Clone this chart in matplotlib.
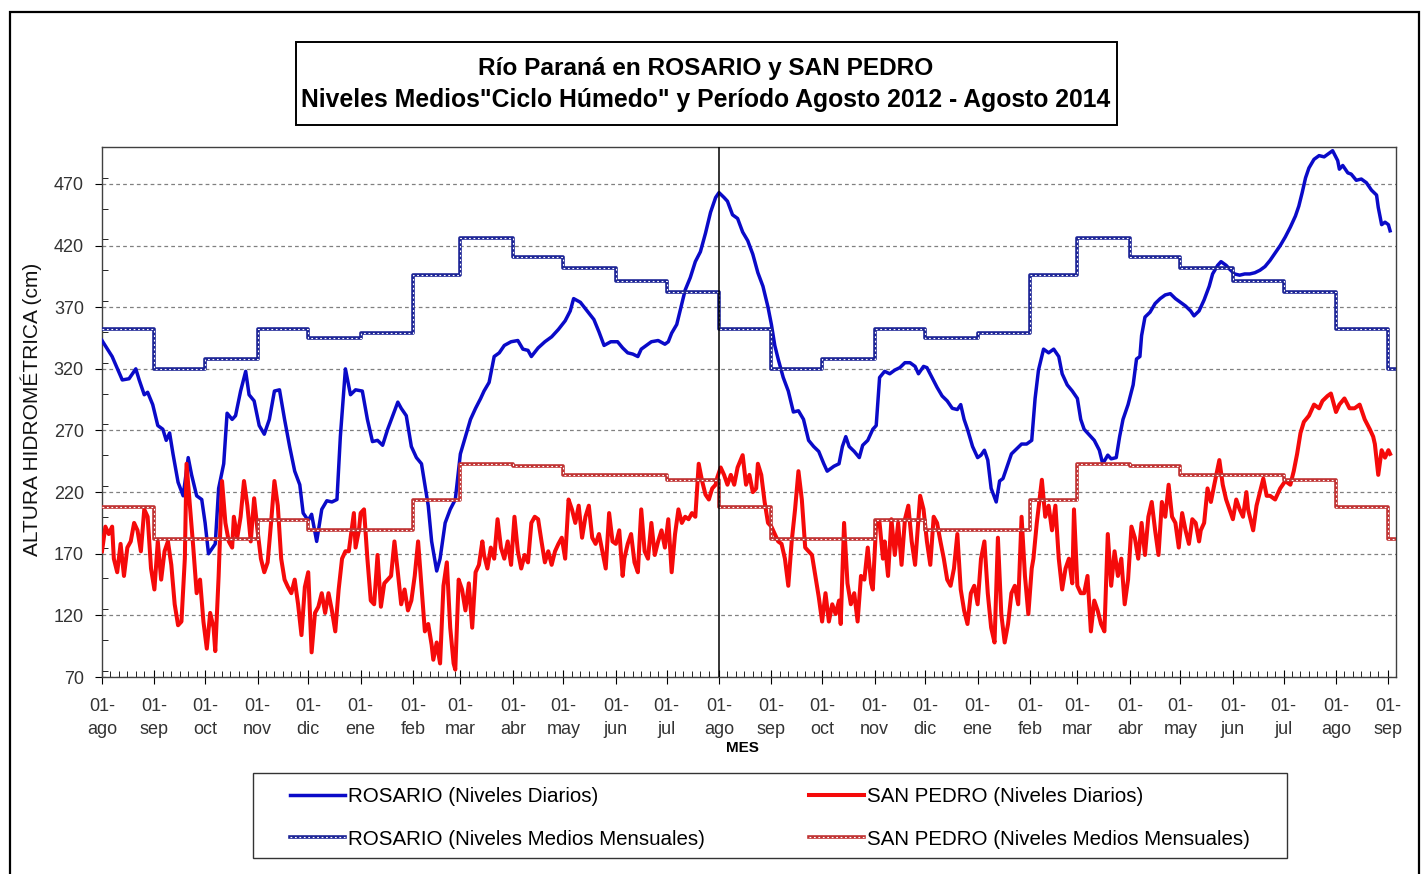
import pandas as pd
import matplotlib
matplotlib.use("Agg")
import matplotlib.pyplot as plt
import matplotlib.dates as mdates
from matplotlib.ticker import FuncFormatter, MultipleLocator
from matplotlib.legend_handler import HandlerTuple
from matplotlib.patches import Rectangle

plt.rcParams['font.family'] = ['Liberation Sans', 'DejaVu Sans']

inicio = pd.Timestamp('2012-08-01')
fin = inicio + pd.Timedelta(days=765.5)

# niveles diarios: (dias desde 01-ago-2012, cm)
ros_diario = [
    (0, 343), (6, 330), (12, 311), (16, 312), (20, 320), (22, 311), (25, 299), (27, 301), (30, 291),
    (33, 274), (36, 271), (38, 262), (40, 268), (42, 251), (45, 228), (48, 217), (51, 248), (53, 234),
    (56, 217), (59, 214), (61, 195), (63, 170), (67, 178), (69, 223), (72, 243), (74, 284), (77, 279),
    (79, 282), (82, 302), (85, 318), (87, 299), (90, 294), (93, 274), (96, 267), (99, 279), (102, 302),
    (105, 303), (108, 279), (111, 257), (114, 237), (117, 226), (119, 203), (122, 197), (124, 202),
    (127, 180), (130, 206), (133, 213), (136, 212), (139, 214), (141, 265), (144, 320), (147, 299),
    (150, 303), (154, 302), (157, 279), (160, 261), (163, 262), (166, 258), (169, 271), (172, 282),
    (175, 293), (177, 288), (180, 282), (183, 257), (186, 248), (189, 243), (191, 226), (193, 209),
    (195, 180), (198, 156), (200, 166), (203, 195), (206, 206), (209, 214), (212, 251), (215, 265),
    (218, 279), (221, 288), (224, 296), (226, 302), (229, 309), (232, 330), (235, 333), (238, 339),
    (242, 342), (246, 343), (249, 336), (252, 335), (254, 330), (258, 337), (262, 342), (266, 346),
    (270, 352), (274, 359), (277, 367), (279, 377), (283, 374), (287, 367), (291, 360), (294, 350),
    (297, 339), (301, 342), (305, 342), (308, 337), (311, 333), (314, 332), (317, 330), (319, 336),
    (322, 339), (325, 342), (329, 343), (333, 340), (335, 342), (337, 349), (340, 356), (343, 373),
    (345, 384), (348, 394), (351, 407), (354, 415), (357, 430), (360, 447), (363, 459), (365, 463),
    (368, 459), (370, 456), (373, 445), (376, 442), (379, 431), (382, 424), (385, 413), (388, 398),
    (391, 387), (394, 370), (396, 356), (398, 339), (400, 328), (403, 313), (406, 302), (409, 285),
    (412, 286), (415, 279), (418, 262), (421, 257), (424, 253), (427, 243), (429, 237), (433, 241),
    (436, 243), (438, 257), (440, 265), (442, 257), (445, 253), (448, 248), (450, 258), (453, 262),
    (456, 271), (458, 274), (460, 313), (463, 318), (466, 316), (469, 319), (472, 321), (475, 325),
    (478, 325), (481, 322), (483, 316), (486, 322), (488, 321), (491, 313), (494, 305), (497, 298),
    (500, 294), (503, 288), (506, 287), (508, 291), (510, 279), (512, 271), (515, 257), (518, 248),
    (520, 250), (522, 254), (524, 246), (526, 223), (529, 212), (531, 229), (533, 231), (536, 243),
    (538, 251), (541, 255), (544, 259), (547, 259), (550, 262), (552, 296), (554, 319), (557, 336),
    (560, 333), (563, 336), (566, 330), (568, 316), (571, 307), (574, 302), (577, 296), (579, 279),
    (581, 271), (583, 268), (587, 262), (590, 254), (592, 243), (595, 250), (597, 247), (600, 248),
    (602, 265), (604, 279), (607, 291), (610, 307), (612, 328), (614, 330), (615, 347), (617, 362),
    (620, 366), (623, 373), (626, 377), (629, 380), (632, 381), (635, 377), (638, 374), (641, 371),
    (644, 367), (646, 363), (649, 367), (652, 376), (655, 387), (657, 397), (660, 404), (662, 407),
    (665, 404), (667, 401), (670, 397), (673, 396), (676, 397), (679, 397), (682, 398), (685, 400),
    (688, 403), (691, 408), (694, 414), (697, 420), (700, 427), (703, 435), (706, 444), (708, 452),
    (710, 463), (712, 475), (714, 483), (717, 490), (720, 493), (723, 492), (726, 495), (728, 497),
    (731, 489), (732, 482), (734, 485), (737, 479), (739, 478), (742, 473), (745, 474), (748, 471),
    (751, 465), (754, 461), (755, 451), (757, 437), (759, 439), (761, 437), (762, 432),
]

sp_diario = [
    (0, 172), (2, 192), (4, 186), (6, 192), (7, 166), (9, 155), (11, 178), (13, 152), (15, 175),
    (17, 180), (19, 195), (21, 189), (23, 172), (25, 206), (27, 200), (29, 158), (31, 141), (33, 180),
    (35, 149), (37, 172), (39, 180), (41, 161), (43, 129), (45, 112), (47, 115), (49, 166), (50, 243),
    (52, 209), (54, 175), (56, 138), (58, 149), (60, 115), (62, 93), (64, 122), (66, 110), (67, 91),
    (69, 152), (71, 229), (73, 195), (75, 180), (77, 175), (78, 200), (80, 183), (82, 200), (84, 229),
    (86, 209), (88, 180), (90, 215), (92, 189), (94, 166), (96, 155), (98, 163), (100, 195), (102, 229),
    (104, 209), (106, 166), (108, 149), (110, 143), (112, 138), (114, 149), (116, 129), (118, 104),
    (120, 143), (122, 155), (124, 90), (126, 122), (128, 127), (130, 138), (132, 122), (134, 138),
    (136, 124), (138, 107), (140, 141), (142, 166), (144, 172), (146, 172), (149, 203), (150, 175),
    (152, 189), (153, 203), (155, 206), (157, 166), (159, 132), (161, 129), (163, 169), (165, 127),
    (167, 146), (169, 149), (171, 152), (173, 180), (175, 155), (177, 129), (179, 141), (181, 124),
    (183, 132), (185, 152), (187, 180), (189, 144), (191, 107), (193, 113), (195, 96), (196, 84),
    (198, 98), (200, 81), (202, 144), (204, 163), (206, 110), (208, 81), (209, 76), (211, 149),
    (213, 141), (215, 124), (217, 146), (219, 110), (221, 155), (223, 161), (225, 180), (226, 169),
    (228, 158), (230, 175), (232, 166), (234, 198), (236, 175), (238, 166), (240, 180), (242, 161),
    (244, 200), (246, 172), (248, 158), (250, 169), (252, 163), (254, 195), (256, 200), (258, 198),
    (260, 180), (262, 163), (264, 172), (266, 161), (268, 172), (270, 178), (272, 183), (274, 166),
    (276, 214), (278, 206), (280, 195), (282, 209), (284, 183), (286, 200), (288, 209), (290, 183),
    (292, 178), (294, 186), (296, 172), (298, 158), (300, 203), (302, 180), (304, 178), (306, 189),
    (308, 152), (309, 166), (311, 178), (313, 186), (315, 163), (317, 155), (319, 206), (321, 172),
    (323, 166), (325, 195), (327, 169), (329, 180), (331, 189), (333, 175), (335, 198), (337, 155),
    (339, 186), (341, 206), (343, 195), (345, 200), (347, 198), (349, 203), (351, 200), (353, 243),
    (355, 229), (357, 218), (359, 214), (361, 223), (363, 226), (364, 232), (366, 240), (368, 234),
    (370, 226), (372, 234), (374, 226), (376, 240), (379, 250), (381, 226), (383, 234), (385, 220),
    (387, 223), (388, 243), (390, 234), (392, 212), (394, 195), (396, 192), (398, 186), (400, 180),
    (402, 178), (404, 166), (406, 144), (408, 180), (410, 206), (412, 237), (414, 214), (416, 175),
    (418, 172), (420, 169), (422, 152), (424, 135), (426, 115), (428, 138), (430, 115), (432, 129),
    (434, 121), (436, 132), (437, 113), (439, 195), (441, 146), (443, 129), (445, 138), (447, 115),
    (449, 152), (451, 149), (453, 175), (455, 146), (456, 141), (458, 195), (460, 195), (462, 166),
    (463, 180), (465, 152), (467, 198), (469, 169), (471, 195), (473, 161), (475, 198), (477, 209),
    (479, 180), (481, 161), (483, 198), (484, 217), (486, 206), (488, 180), (490, 161), (492, 200),
    (494, 195), (496, 180), (498, 166), (500, 149), (502, 144), (504, 158), (506, 186), (508, 141),
    (510, 124), (512, 113), (514, 138), (516, 144), (518, 129), (520, 166), (522, 180), (524, 138),
    (526, 110), (528, 98), (530, 183), (532, 121), (534, 98), (536, 113), (538, 138), (540, 144),
    (542, 129), (544, 200), (546, 152), (548, 121), (550, 158), (551, 166), (553, 195), (556, 230),
    (558, 200), (560, 209), (562, 189), (564, 209), (566, 166), (568, 141), (570, 158), (572, 166),
    (574, 146), (575, 206), (577, 144), (579, 138), (581, 138), (583, 152), (585, 107), (587, 132),
    (589, 124), (591, 113), (593, 107), (595, 186), (597, 144), (599, 172), (601, 152), (603, 166),
    (605, 129), (607, 149), (609, 192), (611, 183), (613, 166), (615, 195), (617, 169), (619, 200),
    (621, 212), (623, 189), (625, 169), (627, 212), (629, 200), (631, 226), (633, 200), (635, 195),
    (637, 175), (639, 203), (641, 189), (643, 178), (645, 198), (647, 195), (649, 180), (650, 189),
    (652, 195), (654, 223), (656, 212), (658, 226), (661, 246), (663, 226), (665, 214), (667, 206),
    (669, 198), (671, 214), (673, 206), (675, 200), (677, 220), (678, 206), (681, 189), (683, 209),
    (685, 220), (687, 231), (689, 217), (691, 217), (694, 214), (697, 223), (700, 229), (703, 226),
    (705, 237), (707, 251), (709, 268), (711, 277), (714, 282), (717, 291), (720, 288), (722, 294),
    (725, 298), (727, 300), (730, 285), (732, 291), (735, 296), (738, 288), (741, 288), (744, 291),
    (747, 279), (750, 271), (752, 265), (753, 259), (755, 234), (757, 254), (759, 248), (761, 254),
    (762, 251),
]

# niveles medios mensuales "ciclo humedo", ago-2012 .. sep-2014
ros_mensual = [352, 320, 328, 352, 345, 349, 396, 426, 411, 402, 391, 382,
               352, 320, 328, 352, 345, 349, 396, 426, 411, 402, 391, 382,
               352, 320]
sp_mensual = [208, 182, 182, 197, 189, 189, 214, 243, 241, 234, 234, 230,
              208, 182, 182, 197, 189, 189, 214, 243, 241, 234, 234, 230,
              208, 182]

meses = ['ene', 'feb', 'mar', 'abr', 'may', 'jun', 'jul', 'ago', 'sep', 'oct', 'nov', 'dic']
etiquetas = ['ROSARIO (Niveles Diarios)', 'ROSARIO (Niveles Medios Mensuales)',
             'SAN PEDRO (Niveles Diarios)', 'SAN PEDRO (Niveles Medios Mensuales)']


def a_fechas(serie):
    dias, cm = zip(*serie)
    return inicio + pd.to_timedelta(list(dias), unit='D'), list(cm)


def linea_mensual(ax, valores, color):
    x = list(pd.date_range(inicio, periods=len(valores), freq='MS')) + [fin]
    y = valores + [valores[-1]]
    base, = ax.plot(x, y, drawstyle='steps-post', color=color, lw=2.6, zorder=4)
    puntos, = ax.plot(x, y, drawstyle='steps-post', color='white', lw=0.8,
                      ls=(0, (1.6, 2.4)), zorder=4.1)
    return base, puntos


fig = plt.figure(figsize=(14.22, 8.74), dpi=100)
ax = fig.add_axes([102 / 1422, 1 - 677 / 874, 1294 / 1422, 530 / 874])

x_ros, y_ros = a_fechas(ros_diario)
x_sp, y_sp = a_fechas(sp_diario)
l_ros, = ax.plot(x_ros, y_ros, color='#0a0ac8', lw=2.5, zorder=3)
l_sp, = ax.plot(x_sp, y_sp, color='#f50a0a', lw=2.9, zorder=3.2)
m_ros = linea_mensual(ax, ros_mensual, '#1c2496')
m_sp = linea_mensual(ax, sp_mensual, '#c03232')

ax.axvline(pd.Timestamp('2013-08-01'), color='black', lw=1.1, zorder=5)

ax.set_xlim(inicio, fin)
ax.set_ylim(70, 500)
ax.yaxis.set_major_locator(MultipleLocator(50))
ax.yaxis.set_minor_locator(MultipleLocator(25))
ax.set_yticks(range(70, 471, 50))
ax.grid(axis='y', color='#808080', ls=(0, (3, 2.5)), lw=0.9, zorder=1)

ax.xaxis.set_major_locator(mdates.MonthLocator(bymonthday=1))
ax.xaxis.set_minor_locator(mdates.DayLocator(bymonthday=[6, 11, 16, 21, 26]))
ax.xaxis.set_major_formatter(FuncFormatter(
    lambda v, pos: f"{mdates.num2date(v).day:02d}-\n{meses[mdates.num2date(v).month - 1]}"))

ax.tick_params(axis='y', which='major', direction='out', length=5, pad=8,
               labelsize=13, labelcolor='#333333')
ax.tick_params(axis='y', which='minor', direction='in', length=4)
ax.tick_params(axis='x', which='major', direction='inout', length=10, pad=10,
               labelsize=13, labelcolor='#333333')
ax.tick_params(axis='x', which='minor', direction='in', length=4)
for lbl in ax.get_xticklabels():
    lbl.set_linespacing(1.45)
for sp in ax.spines.values():
    sp.set_color('#404040')
    sp.set_linewidth(1.0)

ax.set_ylabel('ALTURA HIDROMÉTRICA (cm)', fontsize=15, color='#111111')
ax.yaxis.set_label_coords(-0.046, 0.505)
ax.set_xlabel('MES', fontsize=11, fontweight='bold')
ax.xaxis.set_label_coords(0.4946, -0.12)

# titulo en recuadro
fig.text(706 / 1422, 1 - 68 / 874, 'Río Paraná en ROSARIO y SAN PEDRO',
         ha='center', va='center', fontsize=17.6, fontweight='bold')
fig.text(706 / 1422, 1 - 100 / 874,
         'Niveles Medios"Ciclo Húmedo" y Período Agosto 2012 - Agosto 2014',
         ha='center', va='center', fontsize=17.8, fontweight='bold')
fig.add_artist(Rectangle((296 / 1422, 1 - 125 / 874), 821 / 1422, 83 / 874,
                         transform=fig.transFigure, fill=False, ec='black', lw=1.4))

# leyenda
fig.legend([l_ros, m_ros, l_sp, m_sp], etiquetas, ncol=2,
           handler_map={tuple: HandlerTuple(ndivide=1)},
           loc='upper left', bbox_to_anchor=(290 / 1422, 1 - 787 / 874),
           frameon=False, fontsize=14.8, handlelength=2.67, handletextpad=0.15,
           columnspacing=5.05, labelspacing=1.15, borderpad=0, borderaxespad=0)
fig.add_artist(Rectangle((253 / 1422, 1 - 858 / 874), 1034 / 1422, 85 / 874,
                         transform=fig.transFigure, fill=False, ec='#333333', lw=1.0))

# marco exterior
fig.add_artist(Rectangle((10 / 1422, -0.02), 1409 / 1422, 1 - 12 / 874 + 0.02,
                         transform=fig.transFigure, fill=False, ec='black', lw=1.6))

fig.savefig('out.png', dpi=100)
